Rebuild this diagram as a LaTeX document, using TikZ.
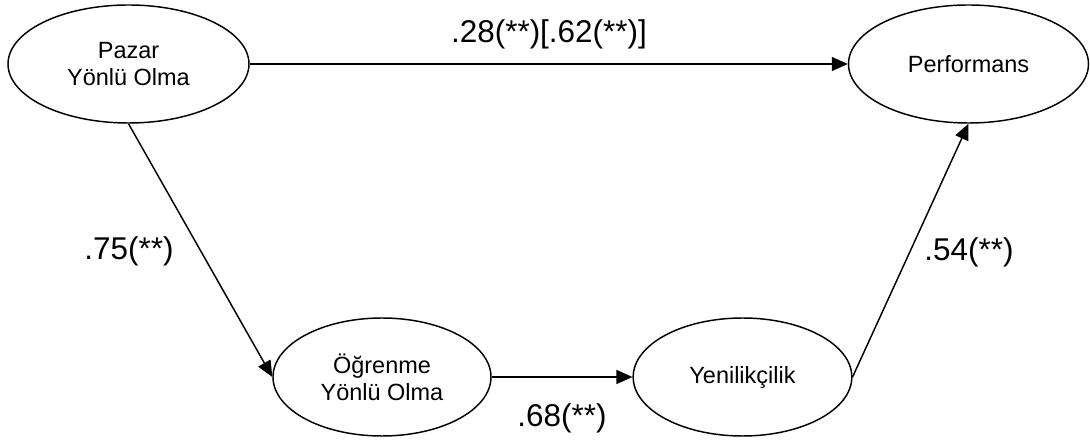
\documentclass[tikz,border=0pt]{standalone}
\usepackage{fontspec}
\setmainfont{Liberation Sans}
\usetikzlibrary{shapes.geometric,arrows.meta}
\begin{document}
\begin{tikzpicture}[x=0.75pt,y=-0.75pt,
  latent/.style={draw,ellipse,line width=1.1pt,inner sep=0pt,minimum width=#1,minimum height=88.5pt,align=center,font=\fontsize{17.6}{20.3}\selectfont},
  pathline/.style={line width=1.1pt,-{Triangle[length=12pt,width=10.5pt]}},
  coef/.style={font=\fontsize{23.6}{28}\selectfont,anchor=base,inner sep=0pt}]
\useasboundingbox (0,0) rectangle (1090,441);
\node[latent=180.75pt] (P) at (128.5,64) {Pazar\\Yönlü Olma};
\node[latent=180pt] (F) at (968.5,64) {Performans};
\node[latent=163.5pt] (O) at (382,377) {Öğrenme\\Yönlü Olma};
\node[latent=164pt] (Y) at (742.5,377) {Yenilikçilik};
\draw[pathline] (P.east) -- (F.west);
\draw[pathline] (P.south) -- (O.west);
\draw[pathline] (O.east) -- (Y.west);
\draw[pathline] (Y.east) -- (F.south);
\node[coef] (l1) at (549,43) {.28(**)[.62(**)]};
\node[coef] (l2) at (129,260) {.75(**)};
\node[coef] (l3) at (969,261) {.54(**)};
\node[coef] (l4) at (562,427) {.68(**)};
\end{tikzpicture}
\end{document}
